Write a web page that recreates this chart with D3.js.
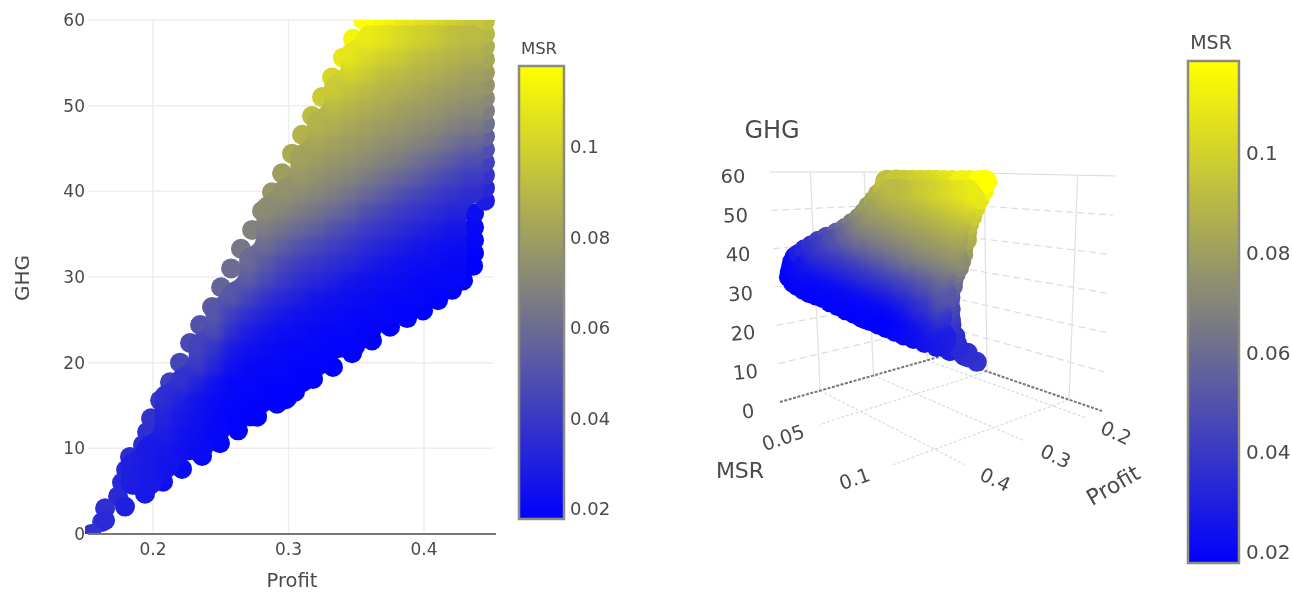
<!DOCTYPE html>
<html><head><meta charset="utf-8">
<script src="https://cdn.jsdelivr.net/npm/d3@7"></script>
<style>html,body{margin:0;padding:0;background:#fff}svg{display:block}text{font-family:"DejaVu Sans",sans-serif;fill:#4a4a4a}</style>
</head><body><svg id="c" width="1292" height="592"></svg>
<script>
// ---- data ----
const profitTicks=[0.2,0.3,0.4];
const ghgTicks=[0,10,20,30,40,50,60];
const msrBarTicks=[0.02,0.04,0.06,0.08,0.1];
const msrTicks3d=[0.05,0.1];
const profitCols=[.16,.1725,.185,.1975,.21,.2225,.235,.2475,.26,.2725,.285,.2975,.31,.3225,.335,.3475,.36,.3725,.385,.3975,.41,.4225,.435];
const rowGHG=[6,8,10,12,14,16,18,20,22,24,26,28,30,32,34,36,38,40,42,44,46,48,50,52,54,56,58];
const rowFirstCol=[2,2,3,4,4,4,5,6,6,7,7,8,9,9,10,10,10,11,12,12,13,13,14,14,15,15,16];
const rowMSR=[
[29,27],
[30,28,25],
[28,26,24,22],
[29,25,23,20],
[32,27,24,21,19,18],
[36,30,25,22,20,19,19,18],
[38,31,24,20,20,19,19,19],
[41,32,24,21,20,20,19,19],
[44,38,28,24,22,21,20,20,19,19],
[48,36,29,25,23,22,21,20,20,19],
[52,42,36,31,27,24,23,22,21,20,20,19],
[52,45,38,33,30,26,24,23,22,21,20,20,19],
[54,47,41,36,33,30,26,24,23,22,21,20,20],
[60,53,47,42,39,36,33,29,26,24,23,22,21],
[61,55,50,46,42,39,35,32,29,26,24,23],
[67,63,59,55,50,46,41,38,35,32,29,26],
[73,70,67,63,59,55,49,45,41,38,35,32],
[75,73,70,67,63,58,54,49,45,41,38,35],
[78,75,72,70,66,62,58,54,49,45,41],
[82,79,77,75,72,69,66,62,58,53,49],
[84,81,79,77,74,72,69,66,62,58],
[88,86,84,81,79,77,74,72,69,66],
[91,88,86,84,81,79,77,74,72],
[97,94,91,88,86,84,81,79,77],
[101,97,93,91,88,86,84,81],
[108,103,100,97,93,91,88,86],
[110,107,103,100,97,93,91]];
const leftEdgeProfit=[.3476,.3402,.3321,.3247,.3173,.31,.3026,.2952,.2878,.2804,.2731,.2649,.2576,.2502,.2435,.2347,.2273,.2199,.2125,.2052,.1985,.1956,.1926,.183,.1801,.1771,.1742,.1646,.1624,.1545];
const leftEdgeGHG=[57.8,55.6,53.3,51,48.8,46.6,44.4,42.1,39.9,37.7,35.5,33.3,31,28.8,26.5,24.4,22.3,20,17.7,15.6,13.5,11.9,10.4,9,7.5,6,4.4,3,1.4,0];
const leftEdgeMSR=[114,108,102,97,92,88,85,80,77,73,69,64,60,57,53,50,47,45,42,40,38,36,35,35,34,34,34,36,36,38];
const bottomEdgeProfit=[.1646,.1793,.1941,.2074,.2214,.2362,.2494,.2627,.2768,.2915,.3048,.3181,.3328,.3469,.3616,.3749,.3875,.3993,.4103,.4207,.4288,.4362];
const bottomEdgeGHG=[1.6,3.2,4.7,6.1,7.6,9.1,10.6,12.1,13.7,15.2,16.6,18.1,19.5,21.1,22.6,24.2,25.2,26.1,27.3,28.5,29.6,31.3];
const bottomEdgeMSR=[34,30,27,24,22,21,20,19,19,19,18,18,18,18,18,18,18,18,18,18,18,18];
const rightLowProfit=[.4369,.4369,.4369,.4369];
const rightLowGHG=[32.8,34.3,35.8,37.4];
const rightLowMSR=[19,20,21,23];
const rightHighProfit=[.445,.445,.445,.445,.445,.445,.445,.445,.445,.445,.445,.445,.445,.445,.445];
const rightHighGHG=[38.9,40.4,41.9,43.4,44.9,46.4,47.9,49.4,50.9,52.4,53.9,55.4,56.9,58.4,59.9];
const rightHighMSR=[29,33,38,43,49,56,62,67,72,76,79,83,86,90,93];
const topEdgeProfit=[.355,.3625,.37,.3775,.385,.3925,.4,.4075,.415,.4225,.43,.4375];
const topEdgeGHG=[60,60,60,60,60,60,60,60,60,60,60,60];
const topEdgeMSR=[118,118,115,113,110,108,106,104,102,100,98,96];

// ---- assemble ----
const interior=[];
rowGHG.forEach((g,i)=>rowMSR[i].forEach((m,j)=>interior.push({p:profitCols[rowFirstCol[i]+j],g,m:m/1000})));
const edges=[];
[[leftEdgeProfit,leftEdgeGHG,leftEdgeMSR],[bottomEdgeProfit,bottomEdgeGHG,bottomEdgeMSR],[rightLowProfit,rightLowGHG,rightLowMSR],[rightHighProfit,rightHighGHG,rightHighMSR],[topEdgeProfit,topEdgeGHG,topEdgeMSR]]
 .forEach(([a,b,c])=>a.forEach((p,i)=>edges.push({p,g:b[i],m:c[i]/1000})));

const svg=d3.select('#c');
const defs=svg.append('defs');
function blur(id,s,goo){
  const f=defs.append('filter').attr('id',id).attr('filterUnits','userSpaceOnUse').attr('color-interpolation-filters','sRGB').attr('x',0).attr('y',0).attr('width',1292).attr('height',592);
  f.append('feGaussianBlur').attr('stdDeviation',s);
  if(goo) f.append('feComponentTransfer').append('feFuncA').attr('type','linear').attr('slope',10).attr('intercept',-4.5);
}
blur('soft',0.7);blur('inner',5,true);blur('inner3',3,true);blur('txt',0.35);
const color=d3.scaleLinear().domain([.0178,.118]).range(['#0000ff','#ffff00']).interpolate(d3.interpolateRgb).clamp(true);

// ---- left 2-D plot ----
const x=d3.scaleLinear().domain([.152,.4531]).range([88,496]);
const y=d3.scaleLinear().domain([0,60]).range([534,20]);
const L=svg.append('g').attr('filter','url(#txt)');
L.append('g').selectAll('line').data(profitTicks).join('line').attr('x1',d=>x(d)).attr('x2',d=>x(d)).attr('y1',20).attr('y2',534).attr('stroke','#eeeeee').attr('stroke-width',1.5);
L.append('g').selectAll('line').data(ghgTicks.slice(1)).join('line').attr('x1',88).attr('x2',494).attr('y1',d=>y(d)).attr('y2',d=>y(d)).attr('stroke','#eeeeee').attr('stroke-width',1.5);
defs.append('clipPath').attr('id','plotclip').append('rect').attr('x',85).attr('y',20).attr('width',411).attr('height',514);
const pts=L.append('g').attr('clip-path','url(#plotclip)').append('g').attr('filter','url(#soft)');
pts.append('g').selectAll('circle').data(edges).join('circle').attr('cx',d=>x(d.p)).attr('cy',d=>y(d.g)).attr('r',10).attr('fill',d=>color(d.m));
pts.append('g').attr('filter','url(#inner)').selectAll('circle').data(interior).join('circle').attr('cx',d=>x(d.p)).attr('cy',d=>y(d.g)).attr('r',13).attr('fill',d=>color(d.m));
L.append('line').attr('x1',88).attr('x2',496).attr('y1',534).attr('y2',534).attr('stroke','#777').attr('stroke-width',2);
L.selectAll('.yt').data(ghgTicks).join('text').attr('class','yt').attr('x',85).attr('y',d=>y(d)).attr('dy','.36em').attr('text-anchor','end').attr('font-size',17).text(d=>d);
L.selectAll('.xt').data(profitTicks).join('text').attr('class','xt').attr('x',d=>x(d)).attr('y',555).attr('text-anchor','middle').attr('font-size',17).text(d3.format('.1f'));
L.append('text').attr('x',292).attr('y',587).attr('text-anchor','middle').attr('font-size',19.5).text('Profit');
L.append('text').attr('transform','translate(29,278) rotate(-90)').attr('text-anchor','middle').attr('font-size',20).text('GHG');

// ---- colour bars ----
function colorbar(x0,x1,top,bot,tickY1,tickY2,fs,titleFs,titleX,titleY,labelX){
  const s=d3.scaleLinear().domain([.02,.1]).range([tickY2,tickY1]);
  const g=svg.append('g').attr('filter','url(#txt)');
  const steps=d3.range(top,bot);
  g.selectAll('rect.s').data(steps).join('rect').attr('class','s').attr('x',x0).attr('width',x1-x0).attr('y',d=>d).attr('height',1.5).attr('fill',d=>color(s.invert(d)));
  g.append('rect').attr('x',x0).attr('y',top).attr('width',x1-x0).attr('height',bot-top).attr('fill','none').attr('stroke','#8b8b80').attr('stroke-width',2.5);
  g.selectAll('text.t').data(msrBarTicks).join('text').attr('class','t').attr('x',labelX).attr('y',d=>s(d)).attr('dy','.36em').attr('font-size',fs).text(d=>d);
  g.append('text').attr('x',titleX).attr('y',titleY).attr('dy','.36em').attr('text-anchor','middle').attr('font-size',titleFs).text('MSR');
}
colorbar(519,564,66,519,147,509,18,16.5,539,48,570);
colorbar(1188,1239,61,563,153,552,20,19,1211,42,1246);

// ---- right pseudo-3D plot: box corners on screen, trilinear map ----
const U=d3.scaleLinear().domain([.172,.475]).range([0,1]);
const V=d3.scaleLinear().domain([.0226,.12]).range([0,1]);
const W=d3.scaleLinear().domain([0,60]).range([0,1]);
const box={f00:[942,356],f10:[780,402],f01:[1102,411],f11:[919,482],t00:[933,172],t10:[770,172],t01:[1115,176],t11:[905,186]};
function proj(u,v,w){
  const mix=(a,b,t)=>[a[0]+(b[0]-a[0])*t,a[1]+(b[1]-a[1])*t];
  const f=mix(mix(box.f00,box.f10,u),mix(box.f01,box.f11,u),v);
  const t=mix(mix(box.t00,box.t10,u),mix(box.t01,box.t11,u),v);
  return mix(f,t,w);
}
const R=svg.append('g').attr('filter','url(#txt)');
function seg(a,b,st,dash,wd){R.append('line').attr('x1',a[0]).attr('y1',a[1]).attr('x2',b[0]).attr('y2',b[1]).attr('stroke',st).attr('stroke-dasharray',dash).attr('stroke-width',wd||1);}
// walls
ghgTicks.forEach(t=>{const w=W(t);if(t>0){seg(proj(1,0,w),proj(0,0,w),t==60?'#d8d8d8':'#dcdcdc',t==60?'':'7,4',1.2);seg(proj(0,0,w),proj(0,1,w),t==60?'#d8d8d8':'#dcdcdc',t==60?'':'7,4',1.2);}});
profitTicks.forEach(t=>{const u=U(t);seg(proj(u,0,0),proj(u,0,1),'#e2e2e2','',1.3);});
msrTicks3d.forEach(t=>{const v=V(t);seg(proj(0,v,0),proj(0,v,1),'#e2e2e2','',1.3);});
// floor
profitTicks.forEach(t=>{const u=U(t);seg(proj(u,0,0),proj(u,1,0),'#d8d8d8','3,2',1.1);});
msrTicks3d.forEach(t=>{const v=V(t);seg(proj(0,v,0),proj(1,v,0),'#d8d8d8','3,2',1.1);});
seg(proj(1,0,0),proj(0,0,0),'#777','3,1.5',2);
seg(proj(0,0,0),proj(0,1,0),'#777','3,1.5',2);
// points
const place=d=>{const q=proj(U(d.p),V(d.m),W(d.g));return {...d,sx:q[0],sy:q[1],depth:U(d.p)+V(d.m)};};
const e3=edges.map(place).sort((a,b)=>d3.ascending(a.depth,b.depth));
const i3=interior.map(place).sort((a,b)=>d3.ascending(a.depth,b.depth));
const P3=R.append('g').attr('filter','url(#soft)');
P3.append('g').selectAll('circle').data(e3).join('circle').attr('cx',d=>d.sx).attr('cy',d=>d.sy).attr('r',d=>d.g>=59.9?12:10).attr('fill',d=>color(d.m));
P3.append('g').attr('filter','url(#inner3)').selectAll('circle').data(i3).join('circle').attr('cx',d=>d.sx).attr('cy',d=>d.sy).attr('r',11).attr('fill',d=>color(d.m));
// labels
ghgTicks.forEach(t=>{const w=W(t),q=proj(1,0,w);R.append('text').attr('transform',`translate(${q[0]-32-5*w},${q[1]+9-5*w}) rotate(${-7*(1-w)})`).attr('dy','.36em').attr('text-anchor','middle').attr('font-size',19.5).text(t);});
msrTicks3d.forEach(t=>{const q=proj(1,V(t),0);R.append('text').attr('transform',`translate(${q[0]-36},${q[1]+13}) rotate(-19)`).attr('dy','.36em').attr('text-anchor','middle').attr('font-size',19.5).text(t);});
profitTicks.forEach(t=>{const q=proj(U(t),1,0);R.append('text').attr('transform',`translate(${q[0]+31},${q[1]+15}) rotate(25)`).attr('dy','.36em').attr('text-anchor','middle').attr('font-size',19.5).text(d3.format('.1f')(t));});
R.append('text').attr('x',772).attr('y',129).attr('dy','.36em').attr('text-anchor','middle').attr('font-size',24).text('GHG');
R.append('text').attr('x',740).attr('y',470).attr('dy','.36em').attr('text-anchor','middle').attr('font-size',22).text('MSR');
R.append('text').attr('transform','translate(1113,485) rotate(-30)').attr('dy','.36em').attr('text-anchor','middle').attr('font-size',22).text('Profit');
</script></body></html>
